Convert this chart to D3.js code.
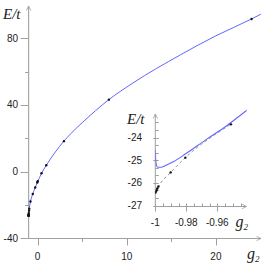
<!DOCTYPE html>
<html>
<head>
<meta charset="utf-8">
<script src="https://cdn.jsdelivr.net/npm/d3@7"></script>
<style>
  html, body { margin: 0; padding: 0; background: #fff; }
  svg { display: block; }
</style>
</head>
<body>
<div id="chart"></div>
<script>
// blue curve, E/t against g2
const curveG2 = [-1, -0.9997, -0.9993, -0.9985, -0.9965, -0.993, -0.9884, -0.9804, -0.9668, -0.9539, -0.9415,
  -0.9, -0.79, -0.53, -0.26, 0, 0.45, 0.98, 2, 2.96, 3.71, 5, 8, 10.7, 16, 20, 24, 25.05];
const curveE = [-24.54, -25.0, -25.22, -25.31, -25.31, -25.22, -25.07, -24.72, -24.07, -23.48, -22.83,
  -21.2, -17.9, -13.4, -9.5, -6.2, -1.0, 3.8, 11.8, 18.3, 22.7, 29.3, 43.2, 53.2, 70, 81.5, 91.6, 94.5];

// black points
const dotG2 = [24.0, 8.0, 2.96, 0.98, 0.45, 0.03, -0.03, -0.26, -0.53, -0.79, -0.925,
  -0.9512, -0.9806, -0.9901, -0.998, -0.9987, -0.9991, -0.9995, -1.0];
const dotE = [91.6, 43.2, 18.3, 3.8, -1.0, -5.7, -6.5, -9.5, -13.4, -17.9, -22.2,
  -23.42, -24.89, -25.54, -26.16, -26.25, -26.32, -26.38, -26.44];

// ticks
const mainXMajor = [0, 10, 20];
const mainXMinor = [5, 15];
const mainYMajor = [-40, 0, 40, 80];
const mainYMinor = [-20, 20, 60];
const insetXMajor = [-1, -0.98, -0.96];
const insetXMinor = [-0.995, -0.99, -0.985, -0.975, -0.97, -0.965, -0.955, -0.95, -0.945];
const insetYMajor = [-27, -26, -25, -24];
const insetYMinor = [-26.667, -26.333, -25.667, -25.333, -24.667, -24.333, -23.667, -23.333];

const width = 266, height = 268;
const axisColor = "#a0a0a0";
const textColor = "#222";
const blue = "#6464ff";

const curve = curveG2.map((g, i) => ({ g, e: curveE[i] }));
const dots = dotG2.map((g, i) => ({ g, e: dotE[i] }));

const svg = d3.select("#chart").append("svg")
  .attr("width", width)
  .attr("height", height)
  .attr("font-family", "'Liberation Sans', Arial, sans-serif");

// main scales
const x = d3.scaleLinear().domain([-1, 25]).range([28.6, 260.5]);
const y = d3.scaleLinear().domain([-40, 80]).range([238.3, 38.3]);

// inset scales
const xi = d3.scaleLinear().domain([-1, -0.96]).range([155.3, 217.3]);
const yi = d3.scaleLinear().domain([-27, -24]).range([205.5, 137.5]);

const chevron = (g, x0, y0, dir) => {
  // dir "up" or "right"
  const p = d3.path();
  if (dir === "up") {
    p.moveTo(x0 - 2.2, y0 + 4.5); p.lineTo(x0, y0); p.lineTo(x0 + 2.2, y0 + 4.5);
  } else {
    p.moveTo(x0 - 4.5, y0 - 2.2); p.lineTo(x0, y0); p.lineTo(x0 - 4.5, y0 + 2.2);
  }
  g.append("path").attr("d", p.toString()).attr("fill", "none")
    .attr("stroke", axisColor).attr("stroke-width", 0.8);
};

// ---------- main axes ----------
const axes = svg.append("g");
const x0 = x(-1), y0 = Math.round(y(-40)) + 0.5;

axes.append("line")
  .attr("x1", x0).attr("x2", x0).attr("y1", y0).attr("y2", 6)
  .attr("stroke", "#a8a8a8").attr("stroke-width", 1.2);
chevron(axes, x0, 6, "up");

axes.append("line")
  .attr("x1", x0).attr("x2", 261).attr("y1", y0).attr("y2", y0)
  .attr("stroke", axisColor);
chevron(axes, 261, y0, "right");

axes.append("g").selectAll("line")
  .data(mainYMajor.map(v => ({ v, len: 8 })).concat(mainYMinor.map(v => ({ v, len: 3.5 }))))
  .join("line")
  .attr("x1", d => x0 - d.len).attr("x2", x0)
  .attr("y1", d => Math.round(y(d.v)) + 0.5).attr("y2", d => Math.round(y(d.v)) + 0.5)
  .attr("stroke", axisColor);

axes.append("g").selectAll("text")
  .data(mainYMajor)
  .join("text")
  .attr("x", 18)
  .attr("y", d => y(d))
  .attr("dy", "0.35em")
  .attr("text-anchor", "end")
  .attr("font-size", 10)
  .attr("fill", textColor)
  .text(d => String(d));

axes.append("g").selectAll("line")
  .data(mainXMajor.map(v => ({ v, len: 7 })).concat(mainXMinor.map(v => ({ v, len: 3.5 }))))
  .join("line")
  .attr("x1", d => Math.round(x(d.v)) + 0.5).attr("x2", d => Math.round(x(d.v)) + 0.5)
  .attr("y1", y0).attr("y2", d => y0 + d.len)
  .attr("stroke", axisColor);

axes.append("g").selectAll("text")
  .data(mainXMajor)
  .join("text")
  .attr("x", d => x(d))
  .attr("y", 260)
  .attr("text-anchor", "middle")
  .attr("font-size", 10)
  .attr("fill", textColor)
  .text(d => String(d));

const serif = "'Liberation Serif', 'Times New Roman', serif";
svg.append("text").attr("x", 3).attr("y", 19.3)
  .attr("font-family", serif).attr("font-style", "italic").attr("font-size", 15)
  .attr("fill", textColor).text("E/t");
const gMain = svg.append("text").attr("x", 247).attr("y", 258.5)
  .attr("font-family", serif).attr("font-style", "italic").attr("font-size", 16)
  .attr("fill", textColor).text("g");
gMain.append("tspan").attr("font-size", 9).attr("dy", 3).text("2");

// ---------- main data ----------
const line = d3.line().x(d => x(d.g)).y(d => y(d.e)).curve(d3.curveMonotoneX);
svg.append("path").datum(curve)
  .attr("d", line)
  .attr("fill", "none").attr("stroke", blue).attr("stroke-width", 1);

svg.append("g").selectAll("circle")
  .data(dots)
  .join("circle")
  .attr("cx", d => x(d.g)).attr("cy", d => y(d.e)).attr("r", 1.2)
  .attr("fill", "#111");

// ---------- inset ----------
const inset = svg.append("g");
const ix0 = xi(-1), iy0 = Math.round(yi(-27)) + 0.5;

inset.append("line")
  .attr("x1", ix0).attr("x2", ix0).attr("y1", iy0).attr("y2", 114)
  .attr("stroke", axisColor);
chevron(inset, ix0, 114, "up");
inset.append("line")
  .attr("x1", ix0).attr("x2", 246.5).attr("y1", iy0).attr("y2", iy0)
  .attr("stroke", axisColor);
chevron(inset, 246.5, iy0, "right");

inset.append("g").selectAll("line")
  .data(insetYMajor.map(v => ({ v, a: -2, b: 3.5 })).concat(insetYMinor.map(v => ({ v, a: 0, b: 3.5 }))))
  .join("line")
  .attr("x1", d => ix0 + d.a).attr("x2", d => ix0 + d.b)
  .attr("y1", d => Math.round(yi(d.v)) + 0.5).attr("y2", d => Math.round(yi(d.v)) + 0.5)
  .attr("stroke", axisColor);

inset.append("g").selectAll("text")
  .data(insetYMajor)
  .join("text")
  .attr("x", 142)
  .attr("y", d => yi(d))
  .attr("dy", "0.35em")
  .attr("text-anchor", "end")
  .attr("font-size", 10)
  .attr("fill", textColor)
  .text(d => String(d));

inset.append("g").selectAll("line")
  .data(insetXMajor.map(v => ({ v, a: -3, b: 5 })).concat(insetXMinor.map(v => ({ v, a: -3, b: 0 }))))
  .join("line")
  .attr("x1", d => Math.round(xi(d.v)) + 0.5).attr("x2", d => Math.round(xi(d.v)) + 0.5)
  .attr("y1", d => iy0 + d.a).attr("y2", d => iy0 + d.b)
  .attr("stroke", axisColor);

inset.append("g").selectAll("text")
  .data(insetXMajor)
  .join("text")
  .attr("x", d => xi(d))
  .attr("y", 226)
  .attr("text-anchor", "middle")
  .attr("font-size", 10)
  .attr("fill", textColor)
  .text(d => String(d));

inset.append("text").attr("x", 127).attr("y", 124)
  .attr("font-family", serif).attr("font-style", "italic").attr("font-size", 15)
  .attr("fill", textColor).text("E/t");
const gInset = inset.append("text").attr("x", 235.5).attr("y", 226.5)
  .attr("font-family", serif).attr("font-style", "italic").attr("font-size", 16)
  .attr("fill", textColor).text("g");
gInset.append("tspan").attr("font-size", 9).attr("dy", 3).text("2");

svg.append("defs").append("clipPath").attr("id", "insetClip")
  .append("rect").attr("x", ix0).attr("y", 105).attr("width", 246.7 - ix0).attr("height", iy0 - 105);

const plot = inset.append("g").attr("clip-path", "url(#insetClip)");
const lineI = d3.line().x(d => xi(d.g)).y(d => yi(d.e)).curve(d3.curveMonotoneX);

const insetDots = dots.filter(d => d.g <= -0.95);
plot.append("path").datum(insetDots.slice().sort((a, b) => a.g - b.g))
  .attr("d", lineI)
  .attr("fill", "none").attr("stroke", "#999").attr("stroke-width", 1)
  .attr("stroke-dasharray", "3,2.5");

plot.append("path").datum(curve)
  .attr("d", lineI)
  .attr("fill", "none").attr("stroke", blue).attr("stroke-width", 1.1);

plot.selectAll("circle")
  .data(insetDots)
  .join("circle")
  .attr("cx", d => xi(d.g)).attr("cy", d => yi(d.e)).attr("r", 1.2)
  .attr("fill", "#111");
</script>
</body>
</html>
